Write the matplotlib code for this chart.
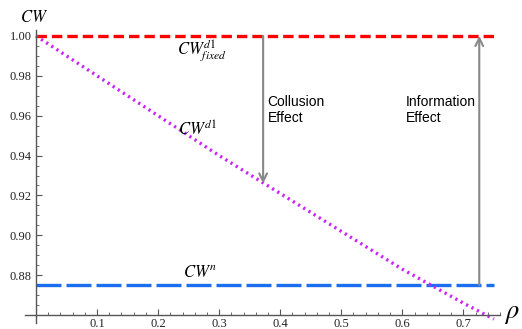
import matplotlib
matplotlib.use('Agg')
import matplotlib.pyplot as plt
from matplotlib.ticker import MultipleLocator, FixedLocator

plt.rcParams['mathtext.fontset'] = 'stix'
plt.rcParams['lines.scale_dashes'] = False

# data
rho = [0.0, 0.1, 0.2, 0.3, 0.4, 0.5, 0.6, 0.7, 0.75]
cw_d1 = [1.0, 0.980, 0.960, 0.940, 0.921, 0.902, 0.883, 0.866, 0.858]
cw_fixed = 1.0
cw_n = 0.875
rho_max = 0.75
collusion_rho = 0.372
collusion_end = 0.926
info_rho = 0.726

xticks = [0.1, 0.2, 0.3, 0.4, 0.5, 0.6, 0.7]
yticks = [0.88, 0.90, 0.92, 0.94, 0.96, 0.98, 1.00]

fig = plt.figure(figsize=(5.22, 3.29), dpi=100)
ax = fig.add_axes([0.0479, 0.018, 0.910, 0.891])

ax.plot([0, rho_max], [cw_fixed, cw_fixed], color='#ff0000', lw=2.4,
        dashes=(7.5, 3.6))
ax.plot([0, rho_max], [cw_n, cw_n], color='#1a6ff0', lw=2.4,
        dashes=(18, 3.6))
ax.plot(rho, cw_d1, color='#cc22ff', lw=2.4, dashes=(1.6, 2.8),
        dash_capstyle='butt')

arr = dict(arrowstyle='->', color='#888888', lw=1.5, mutation_scale=14,
           shrinkA=0, shrinkB=0)
ax.annotate('', xy=(collusion_rho, collusion_end),
            xytext=(collusion_rho, cw_fixed), arrowprops=arr)
ax.annotate('', xy=(info_rho, cw_fixed), xytext=(info_rho, cw_n),
            arrowprops=arr)

ax.text(0.379, 0.963, 'Collusion\nEffect', fontsize=10,
        family='Liberation Sans', va='center', ha='left', linespacing=1.2)
ax.text(0.605, 0.963, 'Information\nEffect', fontsize=10,
        family='Liberation Sans', va='center', ha='left', linespacing=1.2)

ax.text(0.231, 0.993, r'$CW^{d1}_{fixed}$', fontsize=12, va='center')
ax.text(0.233, 0.953, r'$CW^{d1}$', fontsize=12, va='center')
ax.text(0.241, 0.8815, r'$CW^{n}$', fontsize=12, va='center')
ax.text(-0.003, 1.0095, r'$CW$', fontsize=12, va='center', ha='center',
        clip_on=False)
ax.text(0.78, 0.861, r'$\rho$', fontsize=19, va='center', ha='center',
        clip_on=False)

ax.set_xlim(-0.018, 0.76)
ax.set_ylim(0.856, 1.003)
for s in ['top', 'right']:
    ax.spines[s].set_visible(False)
ax.spines['left'].set_position(('data', 0))
ax.spines['bottom'].set_position(('data', 0.86))
for s in ['left', 'bottom']:
    ax.spines[s].set_color('#555555')
    ax.spines[s].set_linewidth(1.0)

ax.xaxis.set_major_locator(FixedLocator(xticks))
ax.xaxis.set_minor_locator(MultipleLocator(0.02))
ax.yaxis.set_major_locator(FixedLocator(yticks))
ax.yaxis.set_minor_locator(MultipleLocator(0.005))
ax.set_xticklabels(['%.1f' % v for v in xticks])
ax.set_yticklabels(['%.2f' % v for v in yticks])
ax.tick_params(which='both', direction='in', color='#555555',
               labelsize=9, labelfontfamily='Liberation Serif',
               labelcolor='#222222')
ax.tick_params(which='major', length=4)
ax.tick_params(which='minor', length=2)
ax.tick_params(axis='y', pad=3)
ax.tick_params(axis='x', pad=2)
ax.patch.set_visible(False)

fig.savefig('out.png', dpi=100)
